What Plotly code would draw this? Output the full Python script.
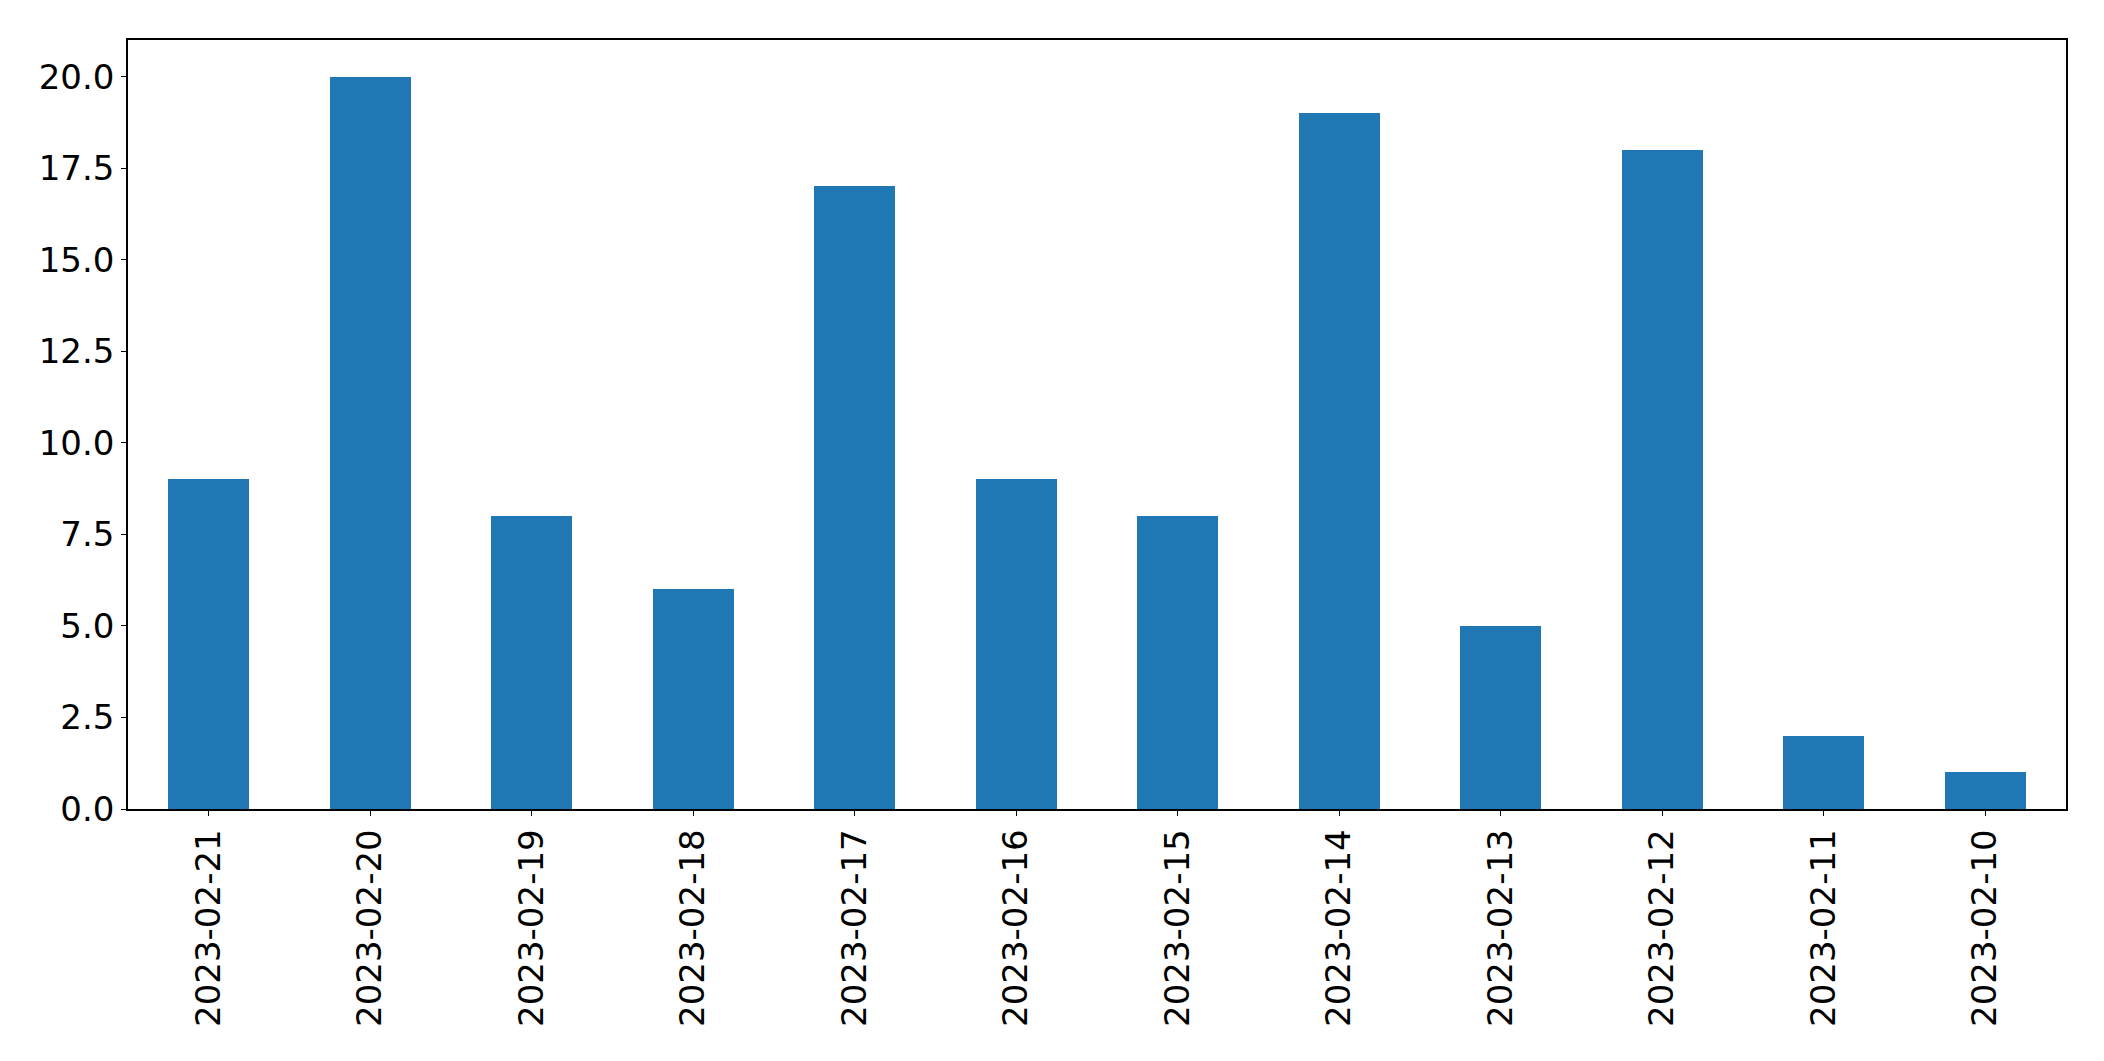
import plotly.graph_objects as go

dates = ["2023-02-21", "2023-02-20", "2023-02-19", "2023-02-18", "2023-02-17", "2023-02-16",
         "2023-02-15", "2023-02-14", "2023-02-13", "2023-02-12", "2023-02-11", "2023-02-10"]
counts = [9, 20, 8, 6, 17, 9, 8, 19, 5, 18, 2, 1]
y_ticks = [0, 2.5, 5, 7.5, 10, 12.5, 15, 17.5, 20]

fig = go.Figure(go.Bar(x=dates, y=counts, width=0.5, marker=dict(color="#1f77b4", line=dict(width=0))))

font = dict(family="DejaVu Sans", size=34, color="black")
fig.update_layout(
    width=2096, height=1053,
    margin=dict(l=120, r=38, t=32, b=252),
    plot_bgcolor="white", paper_bgcolor="white",
    showlegend=False, bargap=0,
    font=font,
)
fig.update_xaxes(type="category", range=[-0.5, 11.5], tickangle=-90,
                 ticks="outside", ticklen=5, tickwidth=1.3, tickcolor="black",
                 showline=True, linecolor="black", linewidth=1.5, mirror=True,
                 showgrid=False, zeroline=False, tickfont=font)
fig.update_yaxes(range=[0, 21], tickvals=y_ticks, ticktext=[f"{v:.1f}" for v in y_ticks],
                 ticks="outside", ticklen=5, tickwidth=1.3, tickcolor="black",
                 showline=True, linecolor="black", linewidth=1.5, mirror=True,
                 showgrid=False, zeroline=False, tickfont=font)
fig.write_html("out.html")
